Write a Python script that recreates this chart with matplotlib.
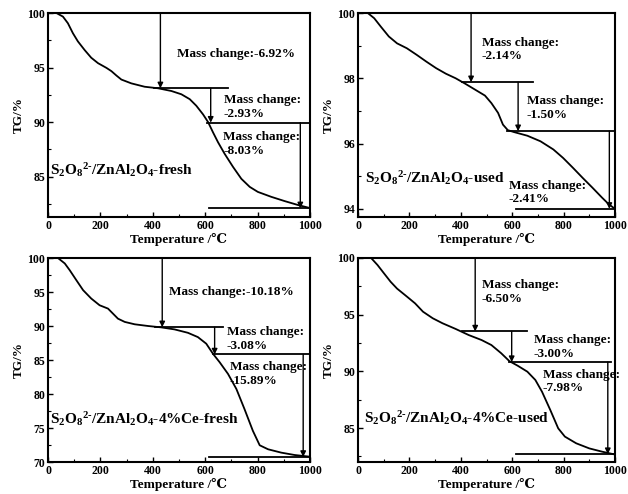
"""
plot.py - four TG curves of S2O8(2-)/ZnAl2O4 catalysts with mass-change steps.
"""
import matplotlib
matplotlib.use("Agg")
import matplotlib.pyplot as plt
from matplotlib.ticker import MultipleLocator, AutoMinorLocator

plt.rcParams["font.family"] = ["Liberation Serif", "DejaVu Serif"]
plt.rcParams["font.weight"] = "bold"
plt.rcParams["mathtext.fontset"] = "custom"
plt.rcParams["mathtext.rm"] = "Liberation Serif:bold"
plt.rcParams["mathtext.it"] = "Liberation Serif:bold"
plt.rcParams["mathtext.bf"] = "Liberation Serif:bold"

# ---- data ---------------------------------------------------------------
fresh_T = [0, 32, 57, 76, 95, 114, 140, 165, 191, 223, 242, 261, 280, 318,
           369, 420, 471, 509, 541, 566, 592, 611, 630, 649, 674, 706, 738,
           770, 801, 852, 903, 954, 1000]
fresh_TG = [100, 100, 99.67, 99.06, 98.15, 97.4, 96.6, 95.9, 95.4, 94.97,
            94.67, 94.27, 93.9, 93.55, 93.24, 93.1, 92.85, 92.55, 92.1, 91.5,
            90.7, 90.0, 89.05, 88.15, 87.1, 85.9, 84.8, 84.06, 83.6, 83.15,
            82.76, 82.4, 82.12]

used_T = [0, 38, 63, 89, 120, 152, 190, 228, 266, 304, 342, 380, 418, 456,
          494, 519, 545, 564, 583, 608, 659, 710, 760, 798, 836, 874, 912,
          950, 976, 1000]
used_TG = [100, 100, 99.84, 99.58, 99.28, 99.07, 98.92, 98.72, 98.51, 98.31,
           98.14, 98.0, 97.83, 97.65, 97.47, 97.24, 96.94, 96.58, 96.41,
           96.35, 96.24, 96.07, 95.82, 95.56, 95.26, 94.95, 94.65, 94.34,
           94.14, 94.0]

ce_fresh_T = [0, 38, 64, 83, 108, 134, 165, 197, 229, 248, 267, 293, 331,
              382, 432, 483, 534, 572, 604, 630, 655, 687, 719, 750, 782,
              808, 840, 890, 941, 1000]
ce_fresh_TG = [100, 100, 99.2, 98.2, 96.75, 95.27, 94.04, 93.05, 92.56,
               91.82, 91.08, 90.6, 90.25, 90.0, 89.8, 89.5, 89.0, 88.37,
               87.4, 85.9, 84.68, 82.96, 80.74, 77.78, 74.58, 72.46, 71.87,
               71.38, 71.03, 70.78]

ce_used_T = [0, 51, 76, 101, 127, 152, 190, 222, 253, 291, 329, 380, 431,
             481, 519, 557, 589, 621, 659, 690, 716, 748, 779, 805, 849, 900,
             950, 1000]
ce_used_TG = [100, 100, 99.38, 98.65, 97.9, 97.3, 96.6, 96.0, 95.26, 94.68,
              94.24, 93.74, 93.2, 92.76, 92.32, 91.6, 90.9, 90.5, 89.97,
              89.24, 88.2, 86.6, 84.97, 84.24, 83.65, 83.2, 82.91, 82.66]

# TG level at each step boundary, and the mass-change labels
fresh_levels = [100, 93.1, 89.95, 82.1]
used_levels = [100, 97.88, 96.38, 94.0]
ce_fresh_levels = [100, 89.82, 85.82, 70.75]
ce_used_levels = [100, 93.52, 90.82, 82.7]

fresh_labels = ["Mass change:-6.92%", "Mass change:\n-2.93%", "Mass change:\n-8.03%"]
used_labels = ["Mass change:\n-2.14%", "Mass change:\n-1.50%", "Mass change:\n-2.41%"]
ce_fresh_labels = ["Mass change:-10.18%", "Mass change:\n-3.08%", "Mass change:\n-15.89%"]
ce_used_labels = ["Mass change:\n-6.50%", "Mass change:\n-3.00%", "Mass change:\n-7.98%"]

sample_names = [r"S$_2$O$_8$$^{2\text{-}}$/ZnAl$_2$O$_4$-fresh",
                r"S$_2$O$_8$$^{2\text{-}}$/ZnAl$_2$O$_4$-used",
                r"S$_2$O$_8$$^{2\text{-}}$/ZnAl$_2$O$_4$-4%Ce-fresh",
                r"S$_2$O$_8$$^{2\text{-}}$/ZnAl$_2$O$_4$-4%Ce-used"]

# ---- layout / annotation placement ---------------------------------------
W, H = 628, 494
panels = [
    dict(T=fresh_T, TG=fresh_TG, levels=fresh_levels, labels=fresh_labels,
         rect=(48, 13, 310, 217), ylim=(81.3, 100), ystep=5,
         arrow_x=[429, 621, 963], shelves=[(405, 687), (608, 1000), (614, 1000)],
         text_xy=[(493, 96.24), (670, 91.4), (668, 88.0)], name_xy=(6, 85.6)),
    dict(T=used_T, TG=used_TG, levels=used_levels, labels=used_labels,
         rect=(358, 13, 615, 217), ylim=(93.75, 100), ystep=2,
         arrow_x=[440, 623, 978], shelves=[(403, 680), (580, 1001), (614, 1000)],
         text_xy=[(481, 98.88), (656, 97.1), (587, 94.5)], name_xy=(28, 94.93)),
    dict(T=ce_fresh_T, TG=ce_fresh_TG, levels=ce_fresh_levels, labels=ce_fresh_labels,
         rect=(48, 258, 310, 462), ylim=(70, 100), ystep=5,
         arrow_x=[436, 636, 974], shelves=[(407, 668), (630, 1000), (614, 1000)],
         text_xy=[(460, 95.0), (683, 88.05), (693, 82.95)], name_xy=(6, 76.3)),
    dict(T=ce_used_T, TG=ce_used_TG, levels=ce_used_levels, labels=ce_used_labels,
         rect=(358, 258, 615, 462), ylim=(82, 100), ystep=5,
         arrow_x=[456, 598, 972], shelves=[(405, 659), (589, 986), (614, 1000)],
         text_xy=[(481, 97.0), (684, 92.15), (718, 89.1)], name_xy=(25, 85.85)),
]

fig = plt.figure(figsize=(W / 100, H / 100), dpi=100)

for p, name in zip(panels, sample_names):
    l, t, r, b = p["rect"]
    ax = fig.add_axes([l / W, 1 - b / H, (r - l) / W, (b - t) / H])
    ax.plot(p["T"], p["TG"], color="k", lw=1.3)

    lv = p["levels"]
    for k in range(3):
        ax.annotate("", xy=(p["arrow_x"][k], lv[k + 1]), xytext=(p["arrow_x"][k], lv[k]),
                    arrowprops=dict(arrowstyle="-|>", color="k", lw=1.0,
                                    mutation_scale=8, shrinkA=0, shrinkB=0))
        x0, x1 = p["shelves"][k]
        ax.plot([x0, x1], [lv[k + 1], lv[k + 1]], color="k", lw=1.3, clip_on=False)
        tx, ty = p["text_xy"][k]
        ax.text(tx, ty, p["labels"][k], fontsize=9.5, fontweight="bold",
                ha="left", va="center", linespacing=1.2)

    ax.text(p["name_xy"][0], p["name_xy"][1], name, fontsize=11,
            fontweight="bold", ha="left", va="center")

    ax.set_xlim(0, 1000)
    ax.set_ylim(*p["ylim"])
    ax.xaxis.set_major_locator(MultipleLocator(200))
    ax.xaxis.set_minor_locator(AutoMinorLocator(2))
    ax.yaxis.set_major_locator(MultipleLocator(p["ystep"]))
    ax.yaxis.set_minor_locator(AutoMinorLocator(2))
    ax.tick_params(which="both", direction="in", labelsize=8.5, pad=2)
    ax.tick_params(which="major", length=3.5, width=1)
    ax.tick_params(which="minor", length=2, width=0.8)
    for s in ax.spines.values():
        s.set_linewidth(1.5)
    ax.set_xlabel("Temperature /℃", fontsize=9.5, fontweight="bold", labelpad=1)
    ax.set_ylabel("TG/%", fontsize=9.5, fontweight="bold", labelpad=2)

fig.savefig("out.png", dpi=100)
